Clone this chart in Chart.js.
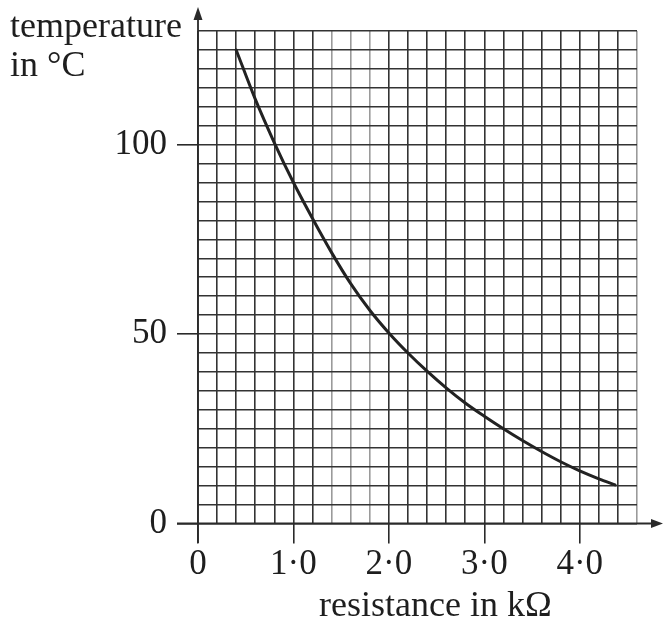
<!DOCTYPE html>
<html>
<head>
<meta charset="utf-8">
<script src="https://cdn.jsdelivr.net/npm/chart.js@4"></script>
<style>
  html, body { margin: 0; padding: 0; background: #fff; }
  #wrap { width: 663px; height: 625px; position: relative; }
</style>
</head>
<body>
<div id="wrap"><canvas id="graph"></canvas></div>
<script>
// values
const resistance = [0.4, 0.6, 0.8, 1.0, 1.2, 1.4, 1.6, 1.8, 2.0, 2.2, 2.4, 2.6, 2.8, 3.0, 3.2, 3.4, 3.6, 3.8, 4.0, 4.2, 4.37];
const temperature = [125, 112, 100.5, 90, 80.5, 71.5, 63.3, 56.3, 50.3, 45, 40.2, 35.8, 31.8, 28.3, 25.0, 21.9, 19.0, 16.3, 13.9, 11.8, 10.2];

const xLabelValues = [0, 1, 2, 3, 4];
const xTickLabels = ["0", "1\u00b70", "2\u00b70", "3\u00b70", "4\u00b70"];
const yLabelValues = [0, 50, 100];
const yTickLabels = ["0", "50", "100"];

const ink = "#1e1e1e";
const gridInk = "#333";
const fadedGrid = "#9a9a9a";
const fadedX = [1.4, 1.6, 1.8, 4.6];

Chart.defaults.font.family = "'Liberation Serif', 'Times New Roman', serif";
Chart.defaults.font.size = 35;
Chart.defaults.color = ink;

const near = (a, b) => Math.abs(a - b) < 1e-6;
const xIdx = v => xLabelValues.findIndex(t => near(t, v));
const yIdx = v => yLabelValues.findIndex(t => near(t, v));

// axis lines with arrows plus the free text
const decor = {
    id: "decor",
    afterDatasetsDraw(chart) {
        const { ctx, scales: { x, y } } = chart;
        const x0 = x.getPixelForValue(0);
        const y0 = y.getPixelForValue(0);
        ctx.save();
        ctx.strokeStyle = "#2a2a2a";
        ctx.fillStyle = "#2a2a2a";
        ctx.lineWidth = 1.8;

        ctx.beginPath();
        ctx.moveTo(177, y0);
        ctx.lineTo(654, y0);
        ctx.moveTo(x0, 543);
        ctx.lineTo(x0, 18);
        ctx.stroke();

        ctx.beginPath();
        ctx.moveTo(663, y0);
        ctx.lineTo(651, y0 - 4.5);
        ctx.lineTo(651, y0 + 4.5);
        ctx.closePath();
        ctx.fill();

        ctx.beginPath();
        ctx.moveTo(x0, 7);
        ctx.lineTo(x0 - 4.5, 20);
        ctx.lineTo(x0 + 4.5, 20);
        ctx.closePath();
        ctx.fill();

        ctx.fillStyle = ink;
        ctx.font = "36px 'Liberation Serif', serif";
        ctx.textAlign = "left";
        ctx.textBaseline = "alphabetic";
        ctx.fillText("temperature", 10, 37);
        ctx.fillText("in \u00b0C", 10, 76);
        ctx.fillText("resistance in k\u03a9", 319, 616);
        ctx.restore();
    }
};

new Chart(document.getElementById("graph"), {
    type: "scatter",
    data: {
        datasets: [{
            label: "temperature",
            data: resistance.map((r, i) => ({ x: r, y: temperature[i] })),
            showLine: true,
            cubicInterpolationMode: "monotone",
            borderColor: "#222",
            borderWidth: 3,
            pointRadius: 0,
            borderCapStyle: "round",
            borderJoinStyle: "round"
        }]
    },
    options: {
        responsive: true,
        maintainAspectRatio: false,
        animation: false,
        layout: { padding: { top: 29, right: 26, left: 0, bottom: 0 } },
        plugins: {
            legend: { display: false },
            tooltip: { enabled: false }
        },
        scales: {
            x: {
                type: "linear",
                min: 0,
                max: 4.6,
                afterFit(scale) { scale.height = 101.5; },
                border: { display: false },
                grid: {
                    color: c => fadedX.some(v => near(v, c.tick.value)) ? fadedGrid : gridInk,
                    lineWidth: 1.6,
                    tickLength: 20,
                    tickColor: c => xIdx(c.tick.value) >= 0 ? "#2a2a2a" : "rgba(0,0,0,0)",
                    tickWidth: 1.6
                },
                ticks: {
                    stepSize: 0.2,
                    autoSkip: false,
                    maxRotation: 0,
                    padding: 0,
                    callback: v => { const i = xIdx(v); return i >= 0 ? xTickLabels[i] : ""; }
                }
            },
            y: {
                type: "linear",
                min: 0,
                max: 130,
                afterFit(scale) { scale.width = 198; },
                border: { display: false },
                grid: {
                    color: gridInk,
                    lineWidth: 1.6,
                    tickLength: 21,
                    tickColor: c => yIdx(c.tick.value) >= 0 ? "#2a2a2a" : "rgba(0,0,0,0)",
                    tickWidth: 1.6
                },
                ticks: {
                    stepSize: 5,
                    autoSkip: false,
                    padding: 10,
                    callback: v => { const i = yIdx(v); return i >= 0 ? yTickLabels[i] : ""; }
                }
            }
        }
    },
    plugins: [decor]
});
</script>
</body>
</html>
